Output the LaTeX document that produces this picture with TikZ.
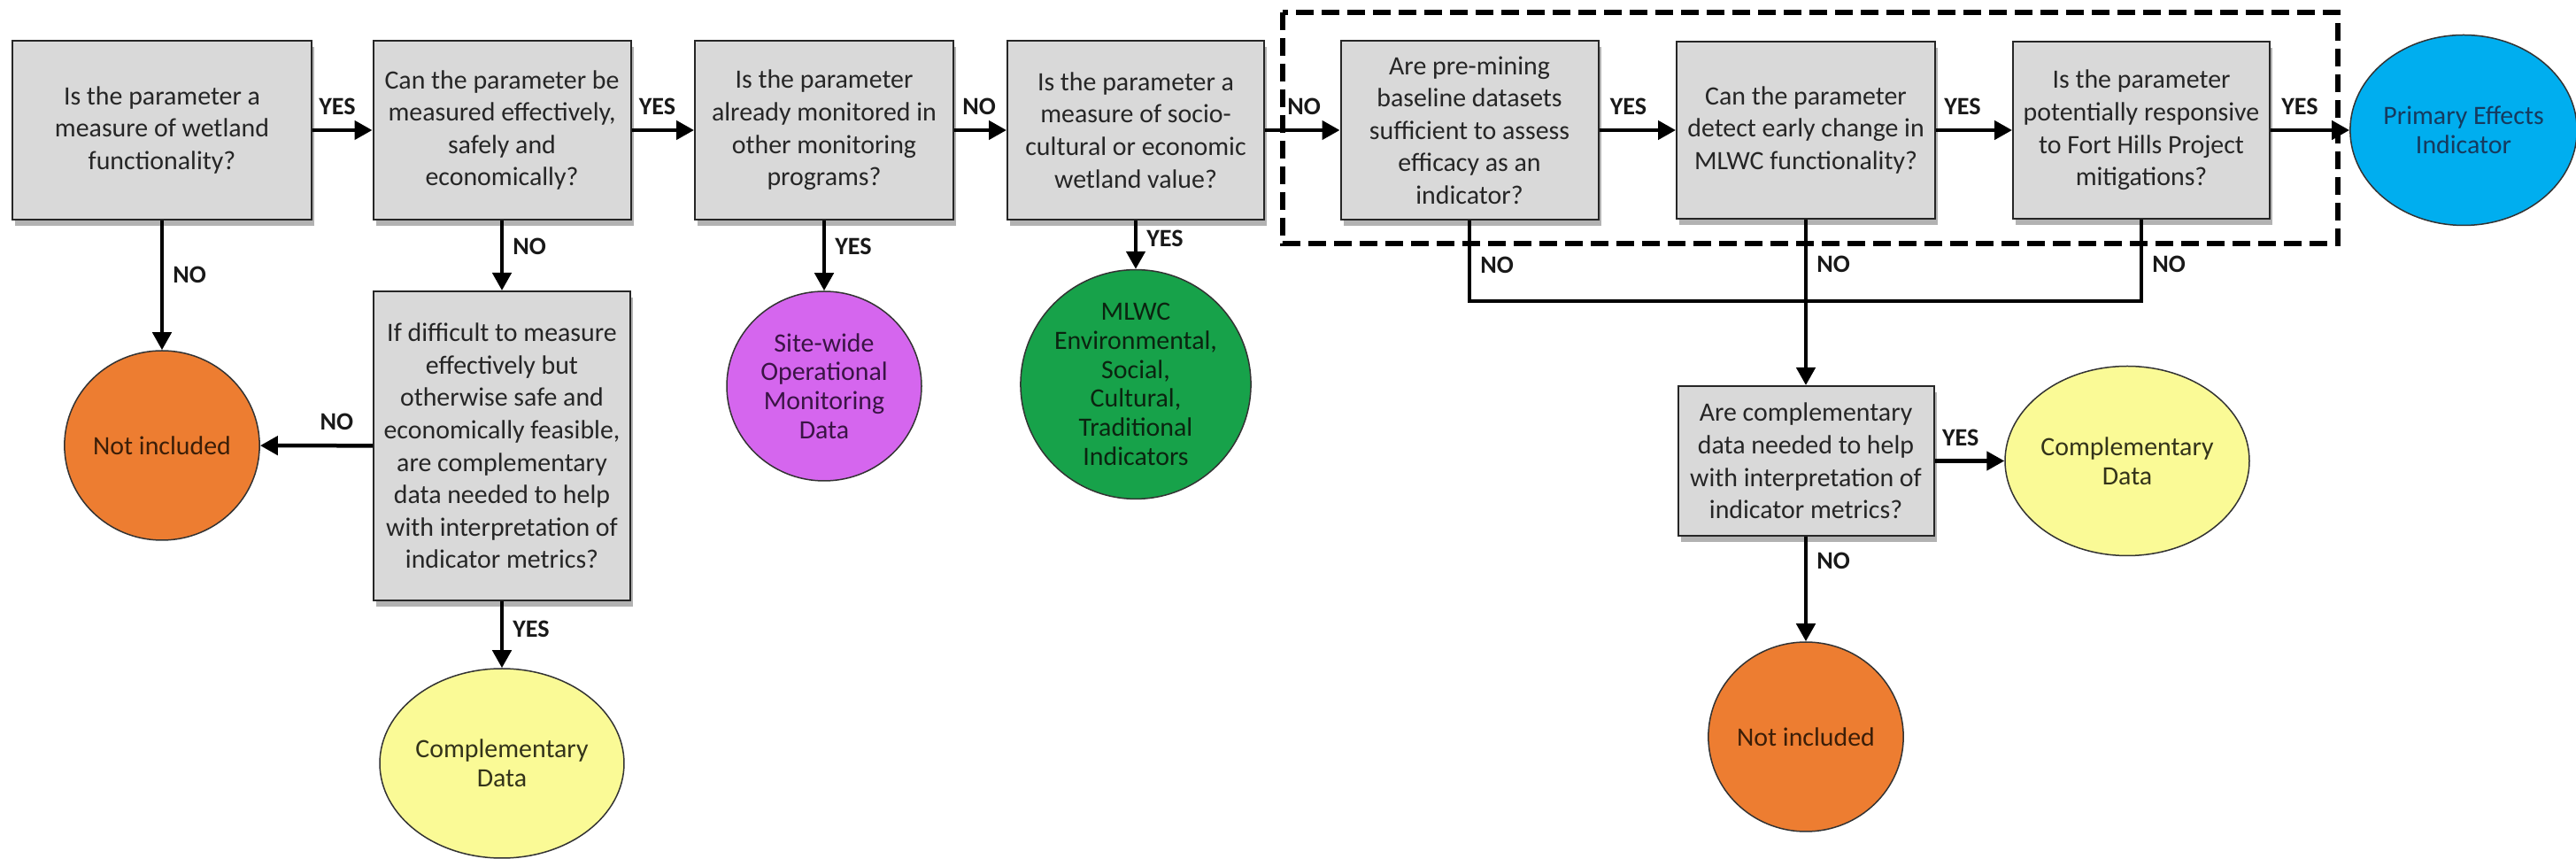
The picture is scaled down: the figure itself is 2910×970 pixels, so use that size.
\documentclass[tikz,border=0pt]{standalone}
\usepackage{fontspec}
\setmainfont{Carlito}
\usetikzlibrary{arrows.meta,shadows,shapes.geometric}
\definecolor{boxgray}{HTML}{D9D9D9}
\definecolor{orangeF}{HTML}{ED7D31}
\definecolor{yellowF}{HTML}{FAFA96}
\definecolor{purpleF}{HTML}{D566EE}
\definecolor{greenF}{HTML}{17A24A}
\definecolor{blueF}{HTML}{00AEEF}
\definecolor{purpleT}{HTML}{3A1445}
\definecolor{blueT}{HTML}{163A5E}
\definecolor{orangeT}{HTML}{3B1E08}
\definecolor{yellowT}{HTML}{33331A}
\definecolor{greenT}{HTML}{0B2410}
\begin{document}
\begin{tikzpicture}[x=0.1mm, y=-0.1mm,
  qbox/.style={draw=black!85, fill=boxgray, line width=0.2mm, inner sep=0pt, align=center,
    font=\fontsize{8.5}{10.4}\selectfont, text=black!85,
    drop shadow={shadow xshift=0.3mm, shadow yshift=-0.7mm, opacity=0.3, fill=black}},
  res/.style={ellipse, draw=black!80, line width=0.15mm, minimum width=22mm, minimum height=21.4mm,
    inner sep=0pt, align=center, font=\fontsize{8.5}{9.3}\selectfont},
  arr/.style={line width=0.45mm, -{Triangle[length=2mm,width=2.1mm]}},
  conn/.style={line width=0.45mm},
  lbl/.style={font=\bfseries\fontsize{8}{9}\selectfont, inner sep=0pt, text=black!90},
  hl/.style={lbl, pos=0, anchor=south west, yshift=1.5mm, xshift=#1},
  vl/.style={lbl, anchor=west, xshift=1mm, pos=#1},
]
\useasboundingbox (0,0) rectangle (2910,970);

% dashed group frame
\draw[line width=0.65mm, dash pattern=on 2mm off 0.9mm] (1449,14) rectangle (2641,275);

% question boxes
\node[qbox, minimum width=33.8mm, minimum height=20.2mm] (b1) at (183,147)
  {Is the parameter a\\measure of wetland\\functionality?};
\node[qbox, minimum width=29.1mm, minimum height=20.2mm] (b2) at (567,147)
  {Can the parameter be\\measured effectively,\\safely and\\economically?};
\node[qbox, minimum width=29.2mm, minimum height=20.2mm] (b3) at (931,147)
  {Is the parameter\\already monitored in\\other monitoring\\programs?};
\node[qbox, minimum width=29.0mm, minimum height=20.2mm] (b4) at (1283,147)
  {Is the parameter a\\measure of socio-\\cultural or economic\\wetland value?};
\node[qbox, minimum width=29.1mm, minimum height=20.2mm] (b5) at (1660,147)
  {Are pre-mining\\baseline datasets\\sufficient to assess\\efficacy as an\\indicator?};
\node[qbox, minimum width=29.2mm, minimum height=20.0mm] (b6) at (2040,147)
  {Can the parameter\\detect early change in\\MLWC functionality?};
\node[qbox, minimum width=29.0mm, minimum height=20.0mm] (b7) at (2419,147)
  {Is the parameter\\potentially responsive\\to Fort Hills Project\\mitigations?};
\node[qbox, minimum width=29.0mm, minimum height=34.9mm] (b8) at (567,503.5)
  {If difficult to measure\\effectively but\\otherwise safe and\\economically feasible,\\are complementary\\data needed to help\\with interpretation of\\indicator metrics?};
\node[qbox, minimum width=28.9mm, minimum height=16.9mm] (b9) at (2040,520.5)
  {Are complementary\\data needed to help\\with interpretation of\\indicator metrics?};

% result ellipses
\node[res, fill=orangeF, text=orangeT] (n1) at (183,503) {Not included};
\node[res, fill=yellowF, text=yellowT] (c1) at (567,862) {Complementary\\Data};
\node[res, fill=purpleF, text=purpleT] (sw) at (931,436) {Site-wide\\Operational\\Monitoring\\Data};
\node[res, fill=greenF, text=greenT] (ml) at (1283,434) {MLWC\\Environmental,\\Social,\\Cultural,\\Traditional\\Indicators};
\node[res, fill=blueF, text=blueT, minimum width=21.8mm, minimum height=21.5mm] (pe) at (2783,147) {Primary Effects\\Indicator};
\node[res, fill=yellowF, text=yellowT] (c2) at (2403,520.5) {Complementary\\Data};
\node[res, fill=orangeF, text=orangeT] (n2) at (2040,832) {Not included};

\coordinate (j) at (2040,340);

% main row
\draw[arr] (b1) -- node[hl=0.5mm]{YES} (b2);
\draw[arr] (b2) -- node[hl=0.6mm]{YES} (b3);
\draw[arr] (b3) -- node[hl=0.7mm]{NO} (b4);
\draw[arr] (b4) -- node[hl=2.3mm]{NO} (b5);
\draw[arr] (b5) -- node[hl=1mm]{YES} (b6);
\draw[arr] (b6) -- node[hl=0.7mm]{YES} (b7);
\draw[arr] (b7) -- node[hl=1mm]{YES} (pe);

% downward branches
\draw[arr] (b1) -- node[vl=0.42]{NO} (n1);
\draw[arr] (b2) -- node[vl=0.37]{NO} (b8);
\draw[arr] (b3) -- node[vl=0.37]{YES} (sw);
\draw[arr] (b4) -- node[vl=0.37]{YES} (ml);
\draw[arr] (b8) -- node[lbl, above, pos=0.32, yshift=1.5mm]{NO} (n1);
\draw[arr] (b8) -- node[vl=0.42]{YES} (c1);

% collector under the dashed group
\draw[conn] (b5.south) -- node[vl=0.55]{NO} (b5.south |- j) -- (b7.south |- j)
  -- node[vl=0.45]{NO} (b7.south);
\draw[arr] (b6) -- node[vl=0.27]{NO} (b9);
\draw[arr] (b9) -- node[lbl, above, pos=0.37, yshift=1.5mm]{YES} (c2);
\draw[arr] (b9) -- node[vl=0.23]{NO} (n2);
\end{tikzpicture}
\end{document}
